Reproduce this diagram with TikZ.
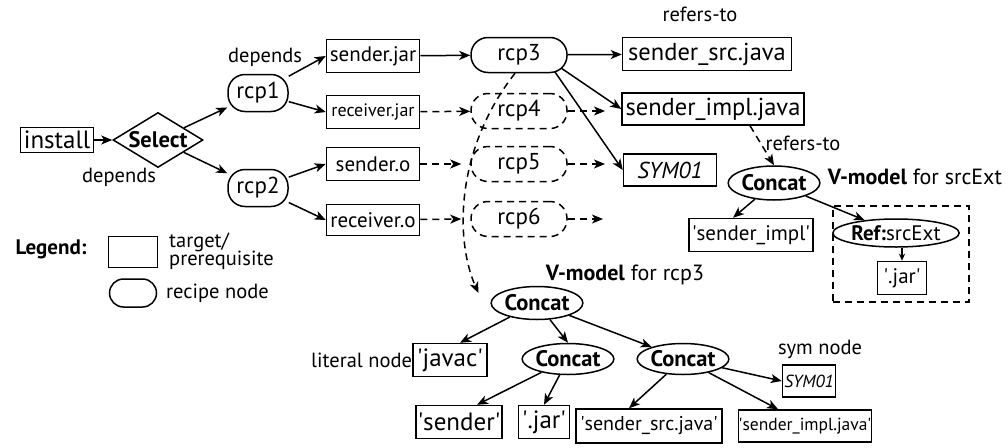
\documentclass[tikz,border=0pt]{standalone}
\usepackage{fontspec}
\setmainfont{PT Sans}
\usetikzlibrary{arrows.meta,shapes.geometric,calc}
\newcommand{\fs}[1]{\fontsize{#1}{#1}\selectfont}
\newcommand{\q}{\textquotesingle}
\tikzset{
  every node/.style={inner sep=0pt, text=black},
  lw/.style={line width=1.5pt},
  tbox/.style={draw, lw, rectangle},
  rcpbox/.style={draw, lw, rectangle, rounded corners=17pt, minimum width=96pt, minimum height=35pt, font=\fs{23}},
  dsh/.style={dash pattern=on 7pt off 5pt},
  ell/.style={draw, lw, ellipse, font=\bfseries\fs{22.5}},
  arr/.style={lw, -{Stealth[length=11pt,width=9pt,inset=3pt]}},
  darr/.style={arr, dash pattern=on 7pt off 5pt},
  lbl/.style={font=\fs{20.5}},
}
\begin{document}
\begin{tikzpicture}[x=1pt,y=-1pt]
\useasboundingbox (0,0) rectangle (1008,447);
% main graph
\node[tbox, minimum width=73pt, minimum height=25pt, font=\fs{25}] (install) at (57,140) {install};
\node[draw, lw, diamond, shape aspect=1.6, minimum width=90pt, minimum height=55pt, font=\bfseries\fs{22.5}] (select) at (158,140) {Select};
\node[lbl] (dep1) at (265,57) {depends};
\node[lbl] (dep2) at (119,177) {depends};
\node[rcpbox, minimum width=60pt, minimum height=37pt] (rcp1) at (258,93) {rcp1};
\node[rcpbox, minimum width=60pt, minimum height=37pt] (rcp2) at (258,188) {rcp2};
\node[tbox, minimum width=93pt, minimum height=33pt, font=\fs{21}] (sjar) at (373,56) {sender.jar};
\node[tbox, minimum width=93pt, minimum height=33pt, font=\fs{18}] (rjar) at (373,112) {receiver.jar};
\node[tbox, minimum width=93pt, minimum height=33pt, font=\fs{21}] (so) at (373,164) {sender.o};
\node[tbox, minimum width=93pt, minimum height=31pt, font=\fs{21}] (ro) at (373,220) {receiver.o};
\node[rcpbox] (rcp3) at (519,55) {rcp3};
\node[rcpbox, dsh] (rcp4) at (519,111) {rcp4};
\node[rcpbox, dsh] (rcp5) at (519,164) {rcp5};
\node[rcpbox, dsh] (rcp6) at (519,219) {rcp6};
\node[tbox, minimum width=169pt, minimum height=33pt, font=\fs{24.5}] (src) at (707,54) {sender\_src.java};
\node[tbox, minimum width=182pt, minimum height=32pt, font=\fs{24.5}] (impl) at (713,109) {sender\_impl.java};
\node[tbox, minimum width=93pt, minimum height=32pt, font=\itshape\fs{23}] (sym) at (670,170) {SYM01};
\node[lbl] (ref1) at (700,14) {refers-to};
\node[lbl] (ref2) at (803,143) {refers-to};
\coordinate (e4) at (605,111);
\coordinate (e5) at (605,164);
\coordinate (e6) at (603,219);

\draw[arr] (install) -- (select);
\draw[arr] (select) -- (rcp1);
\draw[arr] (select) -- (rcp2);
\draw[arr] (rcp1) -- (sjar.west);
\draw[arr] (rcp1) -- (rjar.west);
\draw[arr] (rcp2) -- (so.west);
\draw[arr] (rcp2) -- (ro.west);
\draw[arr] (sjar) -- (rcp3);
\draw[darr] (rjar) -- (rcp4);
\draw[darr] (so) -- ([xshift=-9pt]rcp5.west);
\draw[darr] (ro) -- ([xshift=-9pt]rcp6.west);
\draw[darr] (rcp4) -- (e4);
\draw[darr] (rcp5) -- (e5);
\draw[darr] (rcp6) -- (e6);
\draw[arr] (rcp3) -- (src);
\draw[arr] ($(rcp3.center)+(42,13)$) -- (impl.west);
\draw[arr] ($(rcp3.center)+(36,17)$) -- (sym.west);

% right V-model
\node[ell, minimum width=78pt, minimum height=34pt] (cR) at (774,183) {Concat};
\node[tbox, minimum width=124pt, minimum height=33pt, font=\fs{21}] (simpl) at (751,235) {\q sender\_impl\q};
\node[draw, dsh, line width=1.2pt, minimum width=136pt, minimum height=96pt] (vbox) at (901,254) {};
\node[font=\fs{22}] (vlab) at (915,177) {\textbf{V-model} for srcExt};
\node[draw, lw, ellipse, minimum width=118pt, minimum height=28pt, font=\fs{21}] (refn) at (896,233) {\textbf{Ref:}srcExt};
\node[tbox, minimum width=49pt, minimum height=33pt, font=\fs{21}] (jarR) at (902,278) {\q.jar\q};
\draw[darr] ($(impl.south)+(37,0)$) -- (cR.north);
\draw[arr] (cR) -- ($(simpl.north)+(-18,0)$);
\draw[arr] (cR) -- (refn);
\draw[lw, -{Stealth[length=7pt,width=6pt,inset=2pt]}] (refn.south -| jarR) -- (jarR.north);

% legend
\node[font=\bfseries\fs{21}] (leg) at (51,249) {Legend:};
\node[tbox, minimum width=49pt, minimum height=31pt] (legbox) at (133,252) {};
\node[font=\fs{20.5}, align=left, anchor=west] (legt) at (169,251) {target/\\[-2pt]prerequisite};
\node[draw, lw, rounded corners=14pt, minimum width=47pt, minimum height=28pt] (legrcp) at (133,293) {};
\node[font=\fs{20.5}, anchor=west] (legr) at (166,293) {recipe node};

% bottom V-model
\node[ell, minimum width=91pt, minimum height=33pt] (vm) at (537,303) {Concat};
\node[font=\fs{22}] (vlab2) at (625,275) {\textbf{V-model} for rcp3};
\node[tbox, minimum width=74pt, minimum height=33pt, font=\fs{25}] (javac) at (450,360) {\q javac\q};
\node[font=\fs{20.5}, anchor=east] (litl) at (javac.west) {literal node};
\node[ell, minimum width=90pt, minimum height=31pt] (c2) at (568,359) {Concat};
\node[ell, minimum width=90pt, minimum height=31pt] (c3) at (683,359) {Concat};
\node[tbox, minimum width=86pt, minimum height=33pt, font=\fs{25}] (snd) at (459,422) {\q sender\q};
\node[tbox, minimum width=51pt, minimum height=33pt, font=\fs{25}] (jar2) at (544,422) {\q.jar\q};
\node[tbox, minimum width=146pt, minimum height=34pt, font=\fs{20}] (ssrc) at (649,426) {\q sender\_src.java\q};
\node[tbox, minimum width=53pt, minimum height=32pt, font=\itshape\fs{17.5}] (sym2) at (809,381) {SYM01};
\node[font=\fs{20.5}] (symn) at (820,349) {sym node};
\node[tbox, minimum width=124pt, minimum height=32pt, font=\fs{17.5}] (simpl2) at (805,426) {\q sender\_impl.java\q};

\draw[darr] ([xshift=-4pt]rcp3.south) .. controls (455,150) and (455,240) .. ($(vm.west)+(-12,-10)$);
\draw[arr] (vm) -- ($(javac.north)+(10,0)$);
\draw[arr] (vm) -- (c2.north);
\draw[arr] (vm) -- (c3);
\draw[arr] (c2) -- ($(snd.north)+(18,0)$);
\draw[arr] (c2) -- (jar2.north);
\draw[arr] (c3) -- ($(ssrc.north)+(-20,0)$);
\draw[arr] (c3) -- (sym2.west);
\draw[arr] (c3) -- ($(simpl2.north)+(-27,0)$);
\end{tikzpicture}
\end{document}
